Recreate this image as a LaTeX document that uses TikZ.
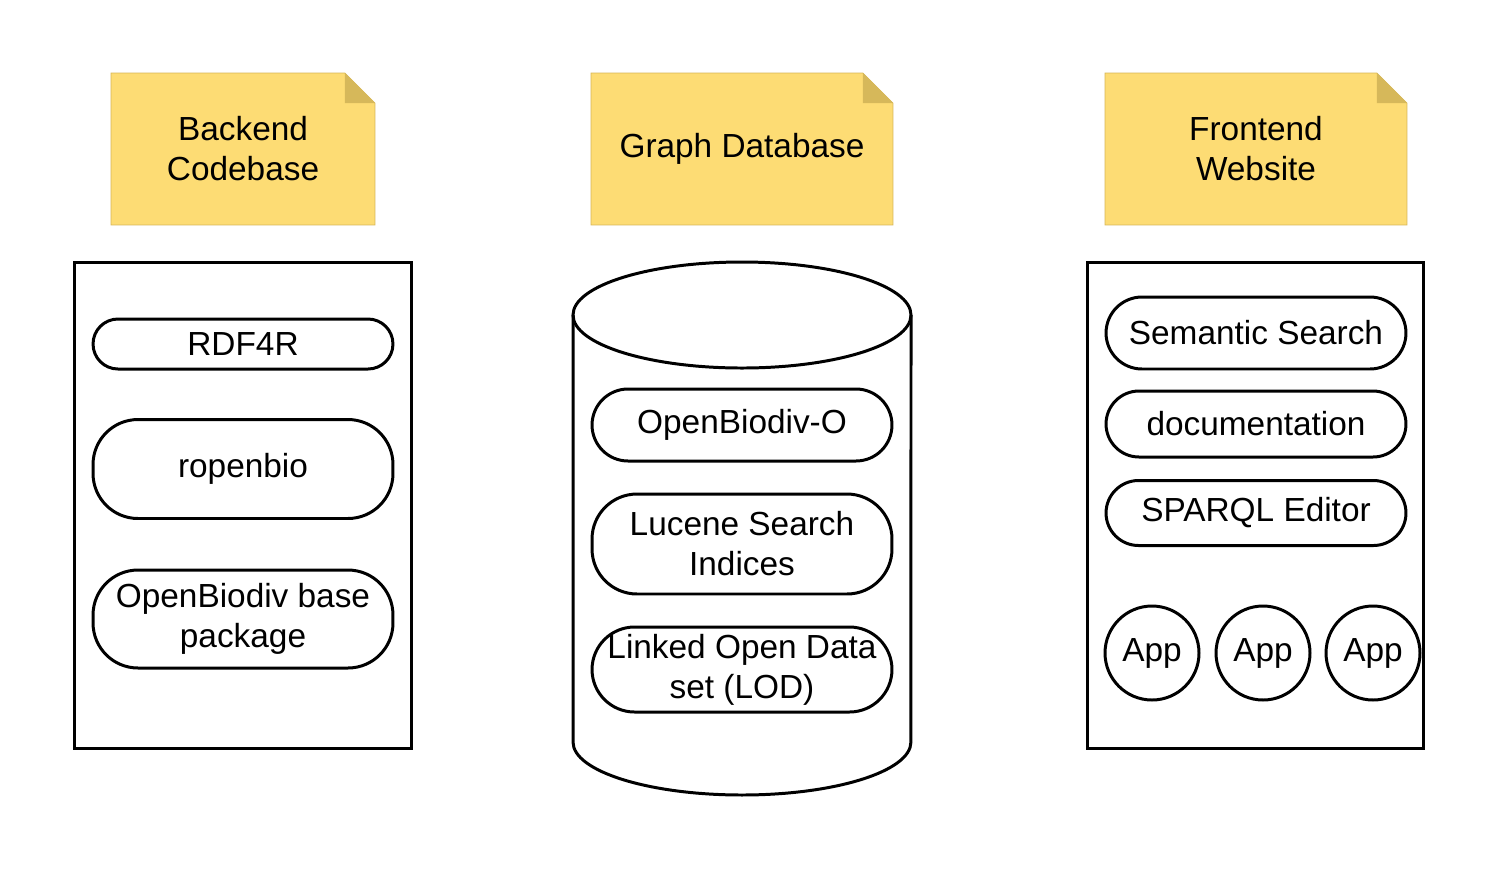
\documentclass[tikz,border=0pt]{standalone}
\usepackage{fontspec}
\setmainfont{Liberation Sans}
\usepackage{tikz}
\usetikzlibrary{shapes}
\usetikzlibrary{backgrounds}
\usetikzlibrary{positioning}
\definecolor{notefill}{HTML}{FDDC74}
\definecolor{noteline}{HTML}{D6B656}
\definecolor{notefold}{HTML}{D6B85A}
\tikzstyle{note}=[rectangle,inner sep=0mm,align=center,minimum width=5.98cm,minimum height=2.98cm]
\tikzstyle{box}=[rectangle,draw=black,inner sep=0mm,minimum width=6.76cm,minimum height=9.74cm]
\tikzstyle{pill}=[rectangle,draw=black,inner sep=0mm,align=center,minimum width=6cm]
\tikzstyle{app}=[circle,draw=black,inner sep=0mm,minimum size=1.88cm]
\tikzset{every picture/.style={
    line width=1.7pt
  }
}

\begin{document}
\begin{tikzpicture}[x=0.02cm,y=-0.02cm,every node/.style={font=\fontsize{19}{22.8}\selectfont}]
  \useasboundingbox (0,0) rectangle (1500,870);
  % notes
  \node[note,minimum width=5.22cm] at (243,149) (backend) {Backend\\Codebase};
  \node[note] at (742,149) (graphdb) {Graph Database};
  \node[note] at (1256,149) (frontend) {Frontend\\Website};
  \begin{scope}[on background layer]
    \foreach \n in {backend,graphdb,frontend} {
      \draw[noteline,fill=notefill] (\n.north west) -- ([xshift=-0.6cm]\n.north east)
        -- ([yshift=-0.6cm]\n.north east) -- (\n.south east) -- (\n.south west) -- cycle;
      \fill[notefold] ([xshift=-0.6cm]\n.north east) -- ([yshift=-0.6cm]\n.north east)
        -- ([xshift=-0.6cm,yshift=-0.6cm]\n.north east) -- cycle;
    }
  \end{scope}
  % backend
  \node[box] at (243,505.5) (codebox) {};
  \node[pill,minimum height=1cm,rounded corners=0.5cm] at (243,344) (rdf) {RDF4R};
  \node[pill,minimum height=1.98cm,rounded corners=0.9cm] at (243,469) (ropenbio) {ropenbio};
  \node[pill,minimum height=1.96cm,rounded corners=0.9cm] at (243,619) (basepkg) {OpenBiodiv base\\package};
  % graph database
  \draw (742,315) ellipse [x radius=169, y radius=53];
  \draw (573,315) -- (573,742) arc[start angle=180,end angle=360,x radius=3.38cm,y radius=1.06cm] -- (911,315);
  \node[pill,minimum height=1.44cm,rounded corners=0.72cm] at (742,425) (onto) {OpenBiodiv-O};
  \node[pill,minimum height=2cm,rounded corners=0.9cm] at (742,544) (lucene) {Lucene Search\\Indices};
  \node[pill,minimum height=1.7cm,rounded corners=0.85cm] at (742,669.5) (lod) {Linked Open Data\\set (LOD)};
  % frontend
  \node[box,minimum width=6.74cm] at (1255.5,505.5) (sitebox) {};
  \node[pill,minimum height=1.44cm,rounded corners=0.72cm] at (1256,333) (search) {Semantic Search};
  \node[pill,minimum height=1.32cm,rounded corners=0.66cm] at (1256,424) (docs) {documentation};
  \node[pill,minimum height=1.3cm,rounded corners=0.65cm] at (1256,513) (sparql) {SPARQL Editor};
  \node[app] at (1152,653) (app1) {App};
  \node[app] at (1263,653) (app2) {App};
  \node[app] at (1373,653) (app3) {App};
\end{tikzpicture}
\end{document}
